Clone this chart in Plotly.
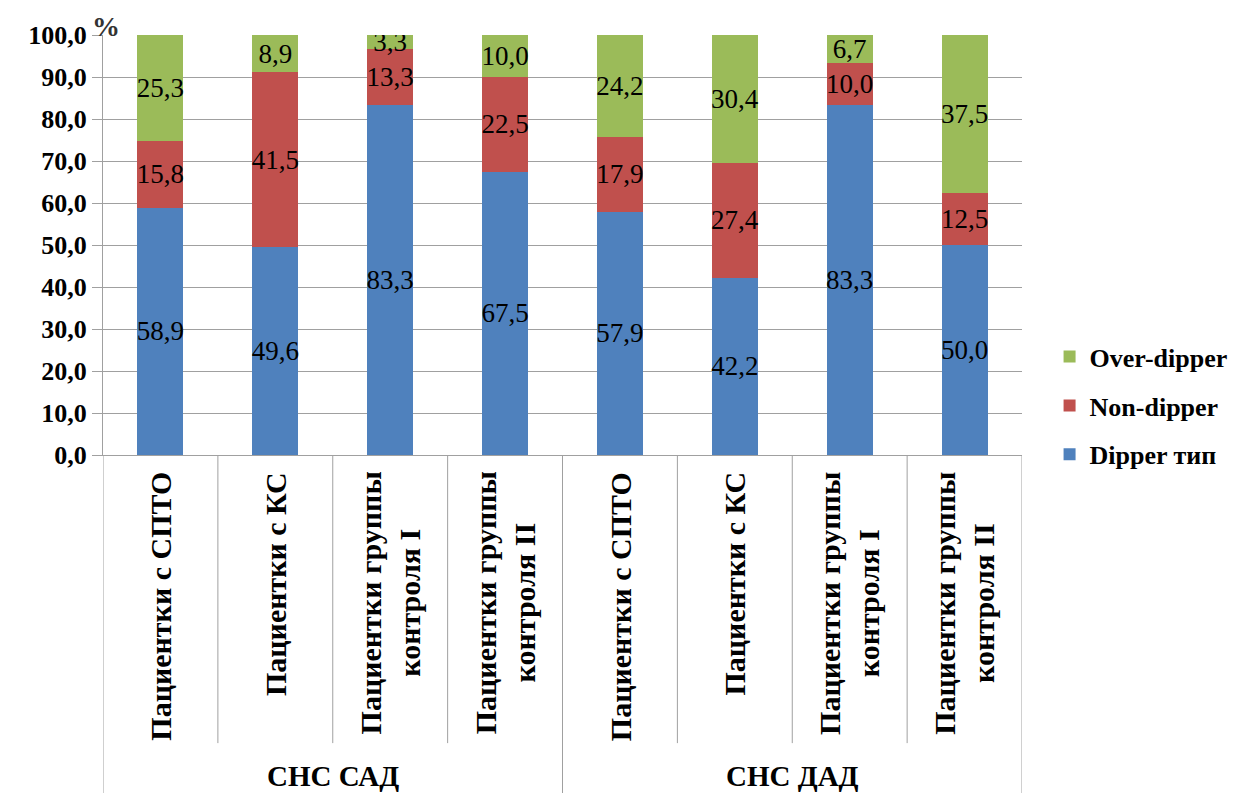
import plotly.graph_objects as go

groups = ["СНС САД", "СНС ДАД"]
categories = ["Пациентки с СПТО", "Пациентки с КС",
              "Пациентки группы<br>контроля I", "Пациентки группы<br>контроля II"]
series_names = ["Dipper тип", "Non-dipper", "Over-dipper"]
dipper = [58.9, 49.6, 83.3, 67.5, 57.9, 42.2, 83.3, 50.0]
non_dipper = [15.8, 41.5, 13.3, 22.5, 17.9, 27.4, 10.0, 12.5]
over_dipper = [25.3, 8.9, 3.3, 10.0, 24.2, 30.4, 6.7, 37.5]
y_ticks = [0, 10, 20, 30, 40, 50, 60, 70, 80, 90, 100]

colors = ["#4F81BD", "#C0504D", "#9BBB59"]
serif = "Liberation Serif"
grid = "#a0a0a0"

labels = [c for g in groups for c in categories]
xpos = list(range(len(labels)))

fig = go.Figure()
for k, (name, vals, col) in enumerate(zip(series_names, [dipper, non_dipper, over_dipper], colors)):
    fig.add_trace(go.Bar(
        x=xpos, y=vals, name=f"<b>{name}</b>", marker=dict(color=col, line=dict(width=0)),
        text=[f"{v:.1f}".replace(".", ",") for v in vals],
        textposition="inside", insidetextanchor="middle", textangle=0,
        constraintext="none",
        textfont=dict(family=serif, size=27, color="black"),
        legendgroup=name, legendrank=10 - k,
    ))

shapes = []
n = len(labels)
per = len(categories)
for i in range(n + 1):
    b = i - 0.5
    outer = (i % per == 0)
    shapes.append(dict(type="line", xref="x", yref="paper", x0=b, x1=b,
                       y0=0, y1=-0.81 if outer else -0.686,
                       line=dict(color=grid, width=1)))

annotations = []
for i, lab in enumerate(labels):
    annotations.append(dict(x=xpos[i], xref="x", y=-0.035, yref="paper",
                            text=f"<b>{lab}</b>", textangle=-90, showarrow=False,
                            xanchor="center", yanchor="top", align="center",
                            font=dict(family=serif, size=30, color="black")))
for gi, g in enumerate(groups):
    annotations.append(dict(x=gi * per + (per - 1) / 2, xref="x", y=-0.765, yref="paper",
                            text=f"<b>{g}</b>", showarrow=False,
                            xanchor="center", yanchor="middle",
                            font=dict(family=serif, size=29, color="black")))
annotations.append(dict(x=-0.014, xref="paper", y=1.02, yref="paper", text="<b>%</b>",
                        showarrow=False, xanchor="left", yanchor="middle",
                        font=dict(family=serif, size=28, color="#333333")))

fig.update_layout(
    width=1248, height=793,
    margin=dict(l=103, r=226, t=35, b=338),
    barmode="stack", bargap=0.6,
    plot_bgcolor="white", paper_bgcolor="white",
    separators=", ",
    uniformtext=dict(minsize=27, mode="show"),
    shapes=shapes, annotations=annotations,
    legend=dict(x=1.03, y=0.29, xanchor="left", yanchor="top",
                traceorder="grouped", tracegroupgap=12,
                font=dict(family=serif, size=26, color="black")),
    font=dict(family=serif, color="black"),
)
fig.update_xaxes(range=[-0.5, n - 0.5], showticklabels=False, showgrid=False,
                 zeroline=False, showline=True, linecolor=grid, linewidth=1,
                 ticks="")
fig.update_yaxes(range=[0, 100], tickvals=y_ticks,
                 ticktext=[f"<b>{v:.1f}</b>".replace(".", ",") for v in y_ticks],
                 showgrid=True, gridcolor=grid, gridwidth=1, zeroline=False,
                 showline=True, linecolor=grid, linewidth=1,
                 ticks="outside", ticklen=10, tickcolor=grid,
                 tickfont=dict(family=serif, size=26, color="black"))

fig.write_html("out.html")
